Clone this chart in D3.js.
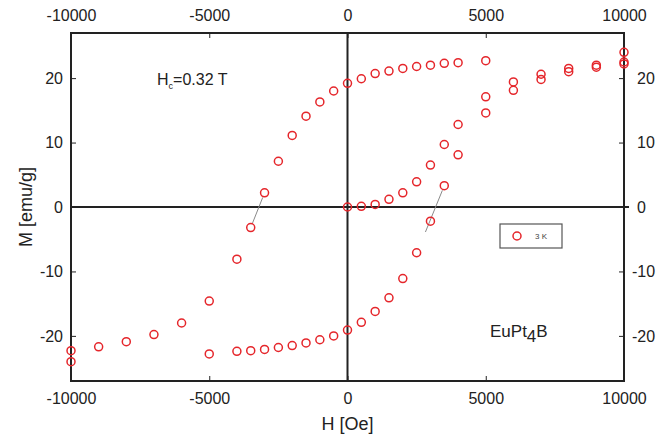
<!DOCTYPE html>
<html>
<head>
<meta charset="utf-8">
<script src="https://cdn.jsdelivr.net/npm/d3@7"></script>
<style>
  body { margin: 0; background: #fff; }
  svg { display: block; font-family: "Liberation Sans", Arial, sans-serif; }
</style>
</head>
<body>
<div id="chart"></div>
<script>
// ── Data (H in Oe, M in emu/g) ──
const virginH = [0, 500, 1000, 1500, 2000, 2500, 3000, 3500, 4000, 5000, 6000, 7000, 8000, 9000, 10000];
const virginM = [0, 0.1, 0.4, 1.2, 2.2, 3.9, 6.5, 9.7, 12.8, 17.1, 19.4, 20.6, 21.5, 22.0, 22.5];

const descH = [10000, 5000, 4000, 3500, 3000, 2500, 2000, 1500, 1000, 500, 0, -500, -1000, -1500, -2000, -2500, -3000, -3500, -4000, -5000, -6000, -7000, -8000, -9000, -10000];
const descM = [24.0, 22.7, 22.4, 22.3, 22.0, 21.8, 21.5, 21.1, 20.7, 19.9, 19.2, 18.0, 16.3, 14.1, 11.1, 7.1, 2.2, -3.2, -8.1, -14.6, -18.0, -19.8, -20.9, -21.7, -22.3];

const ascH = [-10000, -5000, -4000, -3500, -3000, -2500, -2000, -1500, -1000, -500, 0, 500, 1000, 1500, 2000, 2500, 3000, 3500, 4000, 5000, 6000, 7000, 8000, 9000, 10000];
const ascM = [-24.0, -22.8, -22.4, -22.3, -22.1, -21.8, -21.5, -21.1, -20.6, -20.0, -19.1, -17.9, -16.2, -14.1, -11.1, -7.1, -2.2, 3.3, 8.1, 14.6, 18.1, 19.8, 21.0, 21.7, 22.2];

// coercive field guide lines
const coerciveLines = [
  [[-3000, 2.2], [-3500, -3.2]],
  [[3500, 3.3], [2750, -4.6]]
];

const xTicks = [-10000, -5000, 0, 5000, 10000];
const yTicks = [-20, -10, 0, 10, 20];

const W = 657, H = 437;
const margin = { top: 33, right: 33, bottom: 56, left: 71 };
const width = W - margin.left - margin.right;
const height = H - margin.top - margin.bottom;

const svg = d3.select('#chart').append('svg')
  .attr('width', W).attr('height', H);

svg.append('rect').attr('width', W).attr('height', H).attr('fill', '#fff');

const g = svg.append('g')
  .attr('transform', `translate(${margin.left},${margin.top})`);

const x = d3.scaleLinear().domain([-10000, 10000]).range([0, width]);
const y = d3.scaleLinear().domain([-27, 27]).range([height, 0]);

const ink = '#222';
const fontSize = '16px';
const fmt = d => String(d);   // plain hyphen minus, as in the original

function styleAxis(sel) {
  sel.select('.domain').remove();
  sel.selectAll('line').attr('stroke', ink).attr('stroke-width', 1);
  sel.selectAll('text').attr('fill', ink).style('font-size', fontSize);
}

// Axes (inward ticks)
g.append('g').attr('transform', `translate(0,${height})`)
  .call(d3.axisBottom(x).tickValues(xTicks).tickSize(-5).tickPadding(12).tickFormat(fmt))
  .call(styleAxis);

g.append('g')
  .call(d3.axisTop(x).tickValues(xTicks).tickSize(-5).tickPadding(12).tickFormat(fmt))
  .call(styleAxis);

g.append('g')
  .call(d3.axisLeft(y).tickValues(yTicks).tickSize(-5).tickPadding(8).tickFormat(fmt))
  .call(styleAxis);

g.append('g').attr('transform', `translate(${width},0)`)
  .call(d3.axisRight(y).tickValues(yTicks).tickSize(-5).tickPadding(13).tickFormat(fmt))
  .call(styleAxis)
  .selectAll('text').attr('dx', d => d < 0 ? -5 : 0);

// Zero lines
g.append('line')
  .attr('x1', 0).attr('x2', width + 5)
  .attr('y1', y(0)).attr('y2', y(0))
  .attr('stroke', ink).attr('stroke-width', 2);
g.append('line')
  .attr('x1', x(0)).attr('x2', x(0))
  .attr('y1', 0).attr('y2', height)
  .attr('stroke', ink).attr('stroke-width', 2);

// Frame
g.append('rect')
  .attr('width', width).attr('height', height)
  .attr('fill', 'none').attr('stroke', ink).attr('stroke-width', 2);

// Coercive guide lines, trimmed to circle edges
const r = 4;
coerciveLines.forEach(([a, b]) => {
  const x1 = x(a[0]), y1 = y(a[1]), x2 = x(b[0]), y2 = y(b[1]);
  const len = Math.hypot(x2 - x1, y2 - y1);
  const ux = (x2 - x1) / len, uy = (y2 - y1) / len;
  g.append('line')
    .attr('x1', x1 + ux * (r + 1)).attr('y1', y1 + uy * (r + 1))
    .attr('x2', x2 - ux * (r + 1)).attr('y2', y2 - uy * (r + 1))
    .attr('stroke', '#8a8a8a').attr('stroke-width', 1);
});

// Points
const points = [];
[[virginH, virginM], [descH, descM], [ascH, ascM]].forEach(([hs, ms]) => {
  hs.forEach((h, i) => points.push({ h, m: ms[i] }));
});

g.selectAll('circle.pt')
  .data(points).enter()
  .append('circle')
  .attr('class', 'pt')
  .attr('cx', d => x(d.h))
  .attr('cy', d => y(d.m))
  .attr('r', r)
  .attr('fill', 'none')
  .attr('stroke', '#e5262b')
  .attr('stroke-width', 1.5);

// Annotations
const hc = g.append('text')
  .attr('x', 86).attr('y', 52)
  .attr('fill', ink).style('font-size', '16px');
hc.append('tspan').text('H');
hc.append('tspan').attr('dy', 4).style('font-size', '9px').text('c');
hc.append('tspan').attr('dy', -4).text('=0.32 T');

const eu = g.append('text')
  .attr('x', 419).attr('y', 304)
  .attr('fill', ink).style('font-size', '17px');
eu.append('tspan').text('EuPt');
eu.append('tspan').attr('dy', 5).text('4');
eu.append('tspan').attr('dy', -5).text('B');

// Legend
const legend = g.append('g').attr('transform', `translate(${500 - margin.left},${224 - margin.top})`);
legend.append('rect')
  .attr('width', 62).attr('height', 24)
  .attr('fill', '#fff').attr('stroke', '#555').attr('stroke-width', 1.2);
legend.append('circle')
  .attr('cx', 17).attr('cy', 12).attr('r', r)
  .attr('fill', 'none').attr('stroke', '#e5262b').attr('stroke-width', 1.5);
legend.append('text')
  .attr('x', 35).attr('y', 15)
  .attr('fill', '#444').style('font-size', '8px')
  .text('3 K');

// Axis titles
svg.append('text')
  .attr('x', margin.left + x(0)).attr('y', 430)
  .attr('text-anchor', 'middle')
  .attr('fill', ink).style('font-size', '18px')
  .text('H [Oe]');

svg.append('text')
  .attr('transform', `translate(32,${margin.top + y(0)}) rotate(-90)`)
  .attr('text-anchor', 'middle')
  .attr('fill', ink).style('font-size', '18px')
  .text('M [emu/g]');
</script>
</body>
</html>
